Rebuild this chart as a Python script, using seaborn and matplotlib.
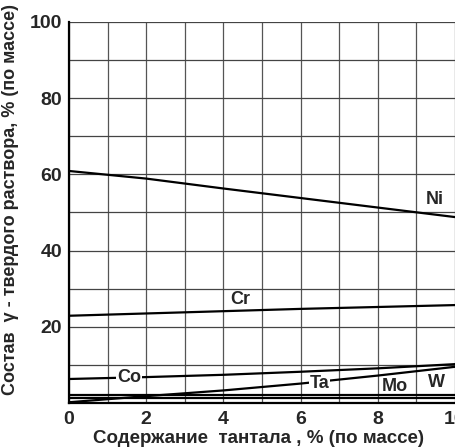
import matplotlib
matplotlib.use("Agg")
import matplotlib.pyplot as plt
import seaborn as sns
import pandas as pd

# Данные (содержание тантала, % по массе)
tantal = [0, 2, 4, 6, 8, 10]
ni = [60.9, 58.9, 56.3, 53.8, 51.3, 48.8]
cr = [22.9, 23.5, 24.1, 24.7, 25.2, 25.7]
co = [6.3, 6.8, 7.4, 8.2, 9.1, 10.2]
ta = [0.2, 1.8, 3.3, 5.1, 7.2, 9.5]
mo = [2.1, 2.1, 2.1, 2.1, 2.1, 2.1]
w = [1.3, 1.3, 1.3, 1.3, 1.3, 1.3]

x_ticks = [0, 2, 4, 6, 8, 10]
y_ticks = [20, 40, 60, 80, 100]

sns.set_style("white")
plt.rcParams['font.family'] = ['Liberation Sans', 'DejaVu Sans']
plt.rcParams['font.weight'] = 'bold'

df = pd.DataFrame({'Ta_in': tantal, 'Ni': ni, 'Cr': cr, 'Co': co,
                   'Ta': ta, 'Mo': mo, 'W': w})

fig = plt.figure(figsize=(4.56, 4.48), dpi=100)
ax = fig.add_axes([69 / 456, 45 / 448, 386 / 456, 381 / 448])

for col in ['Ni', 'Cr', 'Co', 'Ta', 'Mo', 'W']:
    sns.lineplot(data=df, x='Ta_in', y=col, ax=ax, color='black',
                 linewidth=1.6, zorder=3)

ax.set_xlim(0, 10)
ax.set_ylim(0, 100)

# сетка
for xv in range(0, 11):
    ax.axvline(xv, color='#555555', linewidth=0.9, zorder=1)
for yv in range(10, 101, 10):
    ax.axhline(yv, color='#444444', linewidth=0.9, zorder=1)

ax.set_xticks(x_ticks)
ax.set_yticks(y_ticks)
ax.set_xticklabels([str(v) for v in x_ticks], fontsize=14, fontweight='bold')
ax.set_yticklabels([str(v) for v in y_ticks], fontsize=14, fontweight='bold')
ax.tick_params(axis='y', length=0, pad=5)
ax.tick_params(axis='x', length=0, pad=6)

for s in ['top', 'right']:
    ax.spines[s].set_visible(False)
ax.spines['left'].set_linewidth(1.6)
ax.spines['bottom'].set_linewidth(1.6)
ax.spines['left'].set_color('black')
ax.spines['bottom'].set_color('black')

ax.set_xlabel('Содержание  тантала , % (по массе)', fontsize=13.5,
              fontweight='bold')
ax.xaxis.set_label_coords(0.49, -0.072)
ax.set_ylabel('Состав  γ - твердого раствора, % (по массе)', fontsize=13,
              fontweight='bold')
ax.yaxis.set_label_coords(-0.13, 0.535)

lbl = dict(fontsize=13, fontweight='bold', ha='center', va='center', zorder=5)
ax.text(9.48, 53.3, 'Ni', **lbl)
ax.text(4.43, 27.2, 'Cr', **lbl)
ax.text(1.55, 6.6, 'Co', bbox=dict(facecolor='white', edgecolor='none', pad=0.5), **lbl)
ax.text(6.5, 5.0, 'Ta', bbox=dict(facecolor='white', edgecolor='none', pad=0.5), **lbl)
ax.text(8.45, 4.3, 'Mo', **lbl)
ax.text(9.53, 5.3, 'W', **lbl)

fig.savefig('out.png', dpi=100)
